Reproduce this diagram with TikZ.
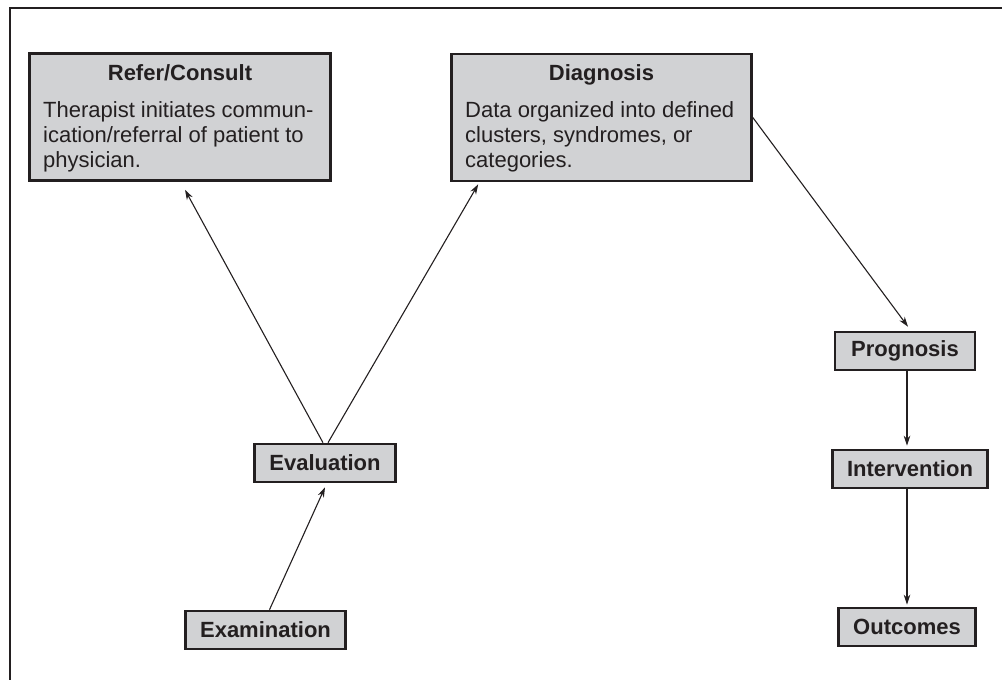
\documentclass[tikz,border=0pt]{standalone}
\usepackage{fontspec}
\setmainfont{Liberation Sans}
\usetikzlibrary{arrows.meta,calc}
\definecolor{ink}{HTML}{231F20}
\definecolor{boxgray}{HTML}{D1D2D4}
\begin{document}
\begin{tikzpicture}[x=1pt,y=-1pt,
  every node/.style={text=ink, font=\fontsize{22}{25}\selectfont},
  card/.style={draw=ink, line width=2.6pt, fill=boxgray, inner sep=0pt},
  stagebox/.style={card, minimum height=38pt, font=\fontsize{22}{25}\selectfont\bfseries},
  link/.style={draw=ink, line width=1.1pt, -{Stealth[length=10pt,width=6.5pt]}}]
\useasboundingbox (0,0) rectangle (1002,680);

% open frame: only the top and left edges
\draw[ink, line width=2.6pt] (1002,8) -- (10,8) -- (10,680);

% large description boxes (body anchored at the baseline of its last line)
\node[card, minimum width=301pt, minimum height=127pt] (refer) at (180,117) {};
\node[anchor=base] (refertitle) at (180,80) {\bfseries Refer/Consult};
\node[anchor=base west, align=left, inner sep=0pt] (referbody) at (43,167)
  {Therapist initiates commun-\\ication/referral of patient to\\physician.};

\node[card, minimum width=300pt, minimum height=127pt] (diag) at (601.5,117.5) {};
\node[anchor=base] (diagtitle) at (601.5,80) {\bfseries Diagnosis};
\node[anchor=base west, align=left, inner sep=0pt] (diagbody) at (465,167)
  {Data organized into defined\\clusters, syndromes, or\\categories.};

% small stage boxes
\node[stagebox, minimum width=141pt] (eval) at (325,463) {Evaluation};
\node[stagebox, minimum width=160pt] (exam) at (265.5,630) {Examination};
\node[stagebox, minimum width=140pt] (prog) at (905,351) {Prognosis};
\node[stagebox, minimum width=155pt] (interv) at (910,469) {Intervention};
\node[stagebox, minimum width=137pt] (outc) at (907,627) {Outcomes};

% connectors
\draw[link] ($(exam.north)+(4,0)$) -- ($(eval.south)+(0,4)$);
\draw[link] ($(eval.north)+(-2,0)$) -- ($(refer.south)+(5,8)$);
\draw[link] ($(eval.north)+(3,0)$) -- ($(diag.south west)+(28,2)$);
\draw[link] (diag.east) -- ($(prog.north)+(3,-4)$);
\draw[link] (outc.north |- prog.south) -- ($(outc.north |- interv.north)+(0,-3)$);
\draw[link] (outc.north |- interv.south) -- ($(outc.north)+(0,-2)$);
\end{tikzpicture}
\end{document}
